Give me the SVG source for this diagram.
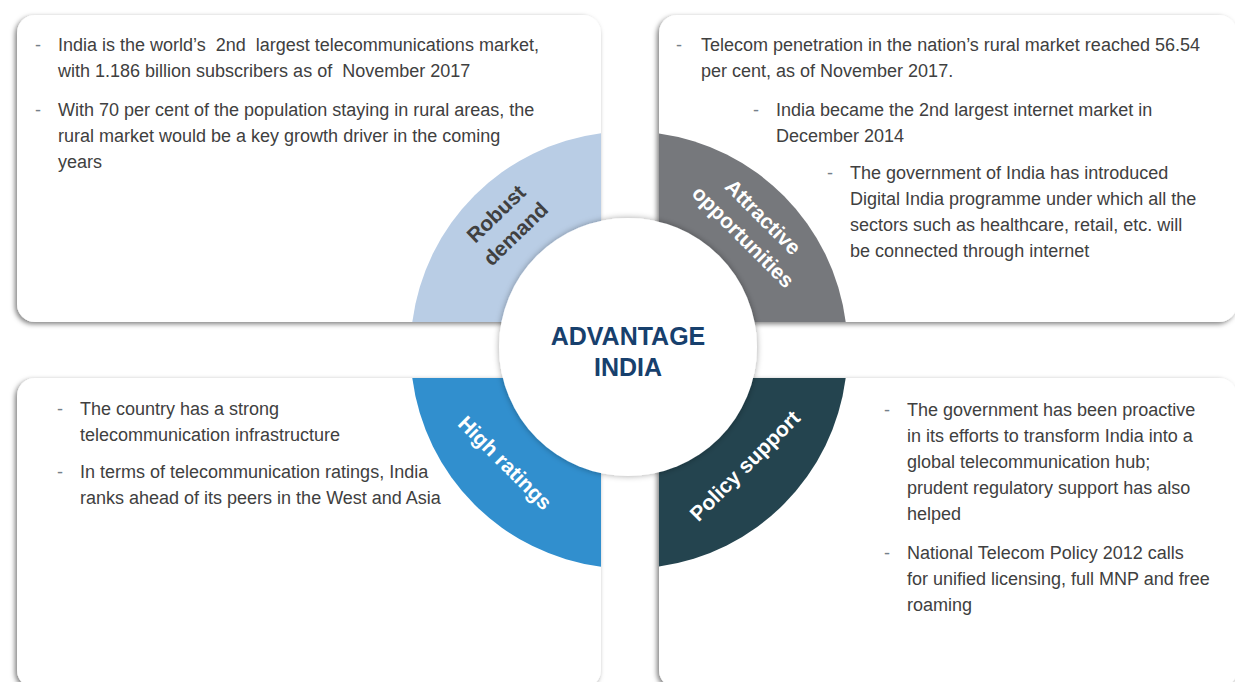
<svg xmlns="http://www.w3.org/2000/svg" width="1235" height="682" viewBox="0 0 1235 682">
<defs>
<filter id="sh" x="-10%" y="-10%" width="120%" height="120%">
<feDropShadow dx="-2" dy="2" stdDeviation="2.5" flood-color="#000" flood-opacity="0.5"/>
</filter>
<filter id="csh" x="-10%" y="-10%" width="120%" height="120%">
<feDropShadow dx="0" dy="0" stdDeviation="3" flood-color="#000" flood-opacity="0.35"/>
</filter>
<style>
.panel{fill:#ffffff;filter:url(#sh)}
.body{font-family:"Liberation Sans",Arial,sans-serif;font-size:18px;fill:#404040}
.dash{font-family:"Liberation Sans",Arial,sans-serif;font-size:18px;fill:#74808a}
.lbl{font-family:"Liberation Sans",Arial,sans-serif;font-size:21px;font-weight:bold;text-anchor:middle}
.title{font-family:"Liberation Sans",Arial,sans-serif;font-size:25px;font-weight:bold;fill:#17406d;text-anchor:middle}
</style>
</defs>
<rect width="1235" height="682" fill="#ffffff"/>

<g id="robust-demand">
<rect class="panel" x="17" y="15" width="584" height="307" rx="18"/>
<path d="M601,322 L601,133.3 A218.5,218.5 0 0 0 412.3,322 Z" fill="#b9cde5"/>
<g transform="translate(506,224) rotate(-44)">
<text class="lbl" fill="#404040" x="0" y="-7">Robust</text>
<text class="lbl" fill="#404040" x="0" y="21">demand</text>
</g>
<text class="dash" x="35" y="51">-</text>
<text class="body" x="58" y="51" xml:space="preserve">India is the world’s  2nd  largest telecommunications market,</text>
<text class="body" x="58" y="77" xml:space="preserve">with 1.186 billion subscribers as of  November 2017</text>
<text class="dash" x="35" y="116">-</text>
<text class="body" x="58" y="116">With 70 per cent of the population staying in rural areas, the</text>
<text class="body" x="58" y="142">rural market would be a key growth driver in the coming</text>
<text class="body" x="58" y="168">years</text>
</g>

<g id="attractive-opportunities">
<rect class="panel" x="659" y="15" width="578" height="307" rx="18"/>
<path d="M659,322 L659,133.6 A218.5,218.5 0 0 1 845.7,322 Z" fill="#76787c"/>
<g transform="translate(753,227) rotate(45)">
<text class="lbl" fill="#ffffff" x="0" y="-7">Attractive</text>
<text class="lbl" fill="#ffffff" x="0" y="21">opportunities</text>
</g>
<text class="dash" x="676" y="51">-</text>
<text class="body" x="701" y="51">Telecom penetration in the nation’s rural market reached 56.54</text>
<text class="body" x="701" y="77">per cent, as of November 2017.</text>
<text class="dash" x="753" y="116">-</text>
<text class="body" x="776" y="116">India became the 2nd largest internet market in</text>
<text class="body" x="776" y="142">December 2014</text>
<text class="dash" x="827" y="179">-</text>
<text class="body" x="850" y="179">The government of India has introduced</text>
<text class="body" x="850" y="205">Digital India programme under which all the</text>
<text class="body" x="850" y="231">sectors such as healthcare, retail, etc. will</text>
<text class="body" x="850" y="257">be connected through internet</text>
</g>

<g id="high-ratings">
<rect class="panel" x="17" y="378" width="584" height="310" rx="18"/>
<path d="M601,378 L601,566.7 A218.5,218.5 0 0 1 412.3,378 Z" fill="#318fce"/>
<g transform="translate(505,463) rotate(45)">
<text class="lbl" fill="#ffffff" x="0" y="7">High ratings</text>
</g>
<text class="dash" x="57" y="415">-</text>
<text class="body" x="80" y="415">The country has a strong</text>
<text class="body" x="80" y="441">telecommunication infrastructure</text>
<text class="dash" x="57" y="478">-</text>
<text class="body" x="80" y="478">In terms of telecommunication ratings, India</text>
<text class="body" x="80" y="504">ranks ahead of its peers in the West and Asia</text>
</g>

<g id="policy-support">
<rect class="panel" x="659" y="378" width="578" height="310" rx="18"/>
<path d="M659,378 L659,566.4 A218.5,218.5 0 0 0 845.7,378 Z" fill="#24444f"/>
<g transform="translate(745,466) rotate(-45)">
<text class="lbl" fill="#ffffff" x="0" y="7">Policy support</text>
</g>
<text class="dash" x="884" y="416">-</text>
<text class="body" x="907" y="416">The government has been proactive</text>
<text class="body" x="907" y="442">in its efforts to transform India into a</text>
<text class="body" x="907" y="468">global telecommunication hub;</text>
<text class="body" x="907" y="494">prudent regulatory support has also</text>
<text class="body" x="907" y="520">helped</text>
<text class="dash" x="884" y="559">-</text>
<text class="body" x="907" y="559">National Telecom Policy 2012 calls</text>
<text class="body" x="907" y="585">for unified licensing, full MNP and free</text>
<text class="body" x="907" y="611">roaming</text>
</g>

<g id="advantage-india">
<circle cx="628" cy="347" r="129" fill="#ffffff" filter="url(#csh)"/>
<text class="title" x="628" y="345">ADVANTAGE</text>
<text class="title" x="628" y="376">INDIA</text>
</g>

<g id="connectors"/>
</svg>
